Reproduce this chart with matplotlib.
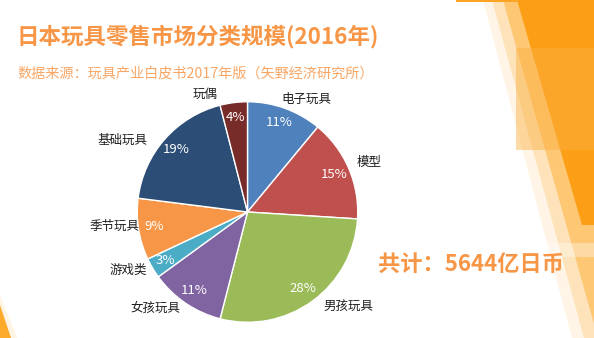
import matplotlib
matplotlib.use("Agg")
import matplotlib.pyplot as plt
from matplotlib.patches import Polygon

plt.rcParams['font.family'] = ['Noto Sans CJK SC', 'DejaVu Sans']

# ---- data ----
categories = ["电子玩具", "模型", "男孩玩具", "女孩玩具", "游戏类", "季节玩具", "基础玩具", "玩偶"]
shares = [11, 15, 28, 11, 3, 9, 19, 4]
colors = ["#4F81BD", "#C0504D", "#9BBB59", "#8064A2", "#4BACC6", "#F79646", "#2C4D75", "#772C2A"]
title = "日本玩具零售市场分类规模(2016年)"
subtitle = "数据来源：玩具产业白皮书2017年版（矢野经济研究所）"
total_text = "共计：5644亿日币"

# ---- layout (label centres in pie-radius units) ----
label_xy = [(0.537, 1.022), (1.102, 0.447), (0.912, -0.864), (-0.833, -0.877),
            (-1.081, -0.529), (-1.208, -0.130), (-1.132, 0.653), (-0.388, 1.070)]

W, H = 594, 338
fig = plt.figure(figsize=(W / 100, H / 100), dpi=100)
fig.patch.set_facecolor("white")


def px(x, y):
    return (x / W, 1 - y / H)


def poly(points, color, alpha=1.0, z=0):
    p = Polygon([px(*q) for q in points], closed=True, transform=fig.transFigure,
                facecolor=color, edgecolor="none", alpha=alpha, zorder=z)
    fig.patches.append(p)


# decorative background shapes (right side)
poly([(483, 0), (600, 0), (600, 338), (572, 338)], "#FFF4E5")
poly([(492, 0), (600, 0), (600, 338), (584, 338)], "#FEE2B9")
poly([(503, 0), (600, 0), (600, 338), (598, 338)], "#FDC774")
poly([(540, 243), (600, 243), (600, 257), (540, 257)], "#FFFFFF", alpha=0.35)
poly([(517, 0), (600, 0), (600, 225), (582, 225)], "#FC9F17")
poly([(516, 48), (600, 48), (600, 150), (516, 150)], "#FBB040", alpha=0.45)
poly([(456, 0), (517, 0), (517, 1.5), (456, 1.5)], "#FBA424")
# bottom-left corner
poly([(0, 295), (0, 338), (17, 338)], "#FFF3E3")
poly([(0, 305), (0, 338), (10.5, 338)], "#FBAA2A")

# ---- pie ----
cx, cy, R = 247.5, 212.0, 110.25
ax = fig.add_axes([(cx - R) / W, (H - cy - R) / H, 2 * R / W, 2 * R / H])

wedges, _, autotexts = ax.pie(
    shares, colors=colors, startangle=90, counterclock=False, radius=1,
    autopct=lambda p: f"{p:.0f}%", pctdistance=0.86,
    wedgeprops=dict(edgecolor="white", linewidth=1.0),
    textprops=dict(color="white", fontsize=9.5))
ax.set_xlim(-1, 1)
ax.set_ylim(-1, 1)
ax.axis("off")

for name, (lx, ly) in zip(categories, label_xy):
    ax.text(lx, ly, name, ha="center", va="center", fontsize=9, color="#1F1F1F",
            clip_on=False)

# ---- texts ----
fig.text(17 / W, 1 - 36 / H, title, ha="left", va="center", fontsize=16.2,
         fontweight="bold", color="#F79646")
fig.text(17 / W, 1 - 73.5 / H, subtitle, ha="left", va="center", fontsize=10.2,
         color="#F9A664")
fig.text(471 / W, 1 - 264 / H, total_text, ha="center", va="center", fontsize=16,
         fontweight="bold", color="#F79646")

fig.savefig("out.png", dpi=100, facecolor="white")
